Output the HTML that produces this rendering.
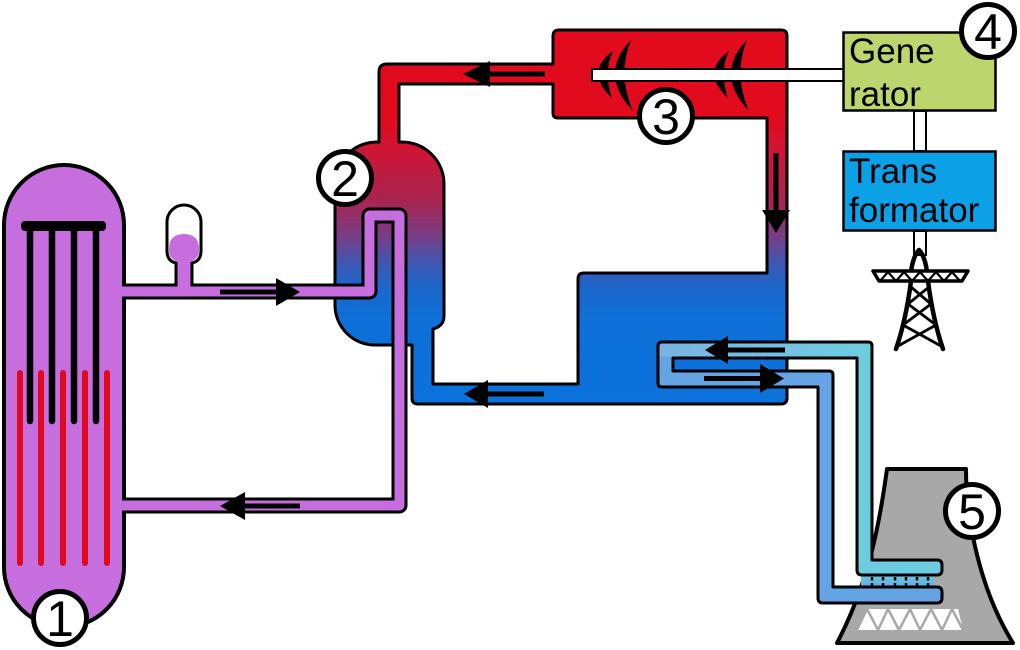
<!DOCTYPE html>
<html><head><meta charset="utf-8"><style>
html,body{margin:0;padding:0;background:#fff;}
svg{display:block;}
text{font-family:"Liberation Sans",Arial,sans-serif;}
</style></head><body>
<svg width="1020" height="650" viewBox="0 0 1020 650" xmlns="http://www.w3.org/2000/svg">
<defs>
<linearGradient id="gMain" gradientUnits="userSpaceOnUse" x1="0" y1="0" x2="0" y2="404">
<stop offset="0.297" stop-color="#e20b1d"/>
<stop offset="0.371" stop-color="#cf1535"/>
<stop offset="0.495" stop-color="#a8244f"/>
<stop offset="0.582" stop-color="#7a3c84"/>
<stop offset="0.656" stop-color="#3a58b4"/>
<stop offset="0.718" stop-color="#1a68cc"/>
<stop offset="0.79" stop-color="#0e70d8"/>
<stop offset="1" stop-color="#0b72dc"/>
</linearGradient>
<linearGradient id="gCyan" gradientUnits="userSpaceOnUse" x1="658" y1="0" x2="860" y2="0">
<stop offset="0" stop-color="#7ab3e3"/>
<stop offset="1" stop-color="#6ecce1"/>
</linearGradient>
<linearGradient id="gDrip" gradientUnits="userSpaceOnUse" x1="0" y1="575" x2="0" y2="588">
<stop offset="0" stop-color="#6ecce1"/>
<stop offset="1" stop-color="#64a4e4"/>
</linearGradient>
</defs>

<!-- cooling tower -->
<path d="M887,469 L966,469 C966,520 980,590 1013,643 L837,643 C870,580 880,520 887,469 Z" fill="#a8a8a8" stroke="#000" stroke-width="4" stroke-linejoin="round"/>
<polygon points="866,609 958,609 963,630 857,630" fill="#fff"/>
<polyline points="857,630 867,609 878,630 888,609 899,630 910,609 920,630 931,609 942,630 952,609 963,630" fill="none" stroke="#a8a8a8" stroke-width="2.5"/>

<!-- reactor vessel -->
<rect x="4" y="165" width="120" height="462" rx="60" ry="60" fill="#c66ede" stroke="#000" stroke-width="4"/>
<g stroke="#e0081c" stroke-width="6" stroke-linecap="round">
<line x1="20" y1="373" x2="20" y2="563"/>
<line x1="41" y1="373" x2="41" y2="563"/>
<line x1="63" y1="373" x2="63" y2="563"/>
<line x1="85" y1="373" x2="85" y2="563"/>
<line x1="107" y1="373" x2="107" y2="563"/>
</g>
<rect x="21" y="221" width="85" height="10" rx="4" fill="#000"/>
<g stroke="#000" stroke-width="6.5" stroke-linecap="round">
<line x1="30" y1="226" x2="30" y2="421"/>
<line x1="52" y1="226" x2="52" y2="421"/>
<line x1="74" y1="226" x2="74" y2="421"/>
<line x1="96" y1="226" x2="96" y2="421"/>
</g>

<!-- secondary loop: SG body, steam pipe, turbine, exhaust, condenser, return -->
<path fill-rule="evenodd" fill="url(#gMain)" stroke="#000" stroke-width="3" stroke-linejoin="round"
d="M335,184 A42,42 0 0 1 377,142 L379,142 L379,72 Q379,64 387,64 L553,64 L553,36 Q553,30 559,30 L781,30 Q787,30 787,36 L787,398 Q787,404 781,404 L418,404 Q412,404 412,398 L412,345 L375,345 A40,40 0 0 1 335,305 Z
M399,142 L399,84 L553,84 L553,113 Q553,118 558,118 L767,118 L767,273 L584,273 Q578,273 578,279 L578,384 L433,384 L433,329 Q444,326 444,316 L444,184 A42,42 0 0 0 402,142 Z"/>

<!-- primary purple pipes -->
<path d="M122,291.5 L369.5,291.5 L369.5,215.5 L399.5,215.5 L399.5,505.5 L122,505.5" fill="none" stroke="#000" stroke-width="16" stroke-linejoin="round"/>
<path d="M120,291.5 L369.5,291.5 L369.5,215.5 L399.5,215.5 L399.5,505.5 L120,505.5" fill="none" stroke="#c66ede" stroke-width="10" stroke-linejoin="round"/>

<!-- pressurizer -->
<path d="M176,284 L176,263 Q167,261 167,251 L167,222 A17,17 0 0 1 201,222 L201,251 Q201,261 192,263 L192,284" fill="#fff" stroke="none"/>
<path d="M169,249 Q169,234 184,234 Q199,234 199,249 L199,251 Q199,259 190.5,261.5 L190.5,289 L177.5,289 L177.5,261.5 Q169,259 169,251 Z" fill="#c66ede"/>
<path d="M176,284 L176,263 Q167,261 167,251 L167,222 A17,17 0 0 1 201,222 L201,251 Q201,261 192,263 L192,284" fill="none" stroke="#000" stroke-width="3"/>

<!-- cooling loop -->
<rect x="861" y="574" width="73" height="14" fill="url(#gDrip)"/>
<path d="M662,342 L868,342 Q872,342 872,346 L872,560 L937,560 Q942,560 942,565 L942,570 Q942,575 937,575 L862,575 Q857,575 857,570 L857,358 L673,358 L673,371 L829,371 Q833,371 833,375 L833,587 L937,587 Q942,587 942,592 L942,598 Q942,603 937,603 L823,603 Q818,603 818,598 L818,387 L662,387 Q658,387 658,383 L658,346 Q658,342 662,342 Z" fill="#64a4e4"/>
<path d="M659.5,343.5 L870.5,343.5 L870.5,561.5 L940.5,561.5 L940.5,573.5 L858.5,573.5 L858.5,356.5 L659.5,356.5 Z" fill="url(#gCyan)"/>
<path d="M662,342 L868,342 Q872,342 872,346 L872,560 L937,560 Q942,560 942,565 L942,570 Q942,575 937,575 L862,575 Q857,575 857,570 L857,358 L673,358 L673,371 L829,371 Q833,371 833,375 L833,587 L937,587 Q942,587 942,592 L942,598 Q942,603 937,603 L823,603 Q818,603 818,598 L818,387 L662,387 Q658,387 658,383 L658,346 Q658,342 662,342 Z" fill="none" stroke="#000" stroke-width="3" stroke-linejoin="round"/>
<g stroke="#000" stroke-width="2.5" stroke-dasharray="3.5 2.5">
<line x1="872" y1="577" x2="872" y2="587"/>
<line x1="883" y1="577" x2="883" y2="587"/>
<line x1="895" y1="577" x2="895" y2="587"/>
<line x1="906" y1="577" x2="906" y2="587"/>
<line x1="917" y1="577" x2="917" y2="587"/>
<line x1="928" y1="577" x2="928" y2="587"/>
</g>

<!-- turbine blades -->
<g fill="#000">
<path d="M613,51 Q584,72 612,98 Q603,72 613,51 Z"/>
<path d="M631,40 Q598,74 633,111 Q617,74 631,40 Z"/>
<path d="M729,51 Q700,72 728,98 Q719,72 729,51 Z"/>
<path d="M747,40 Q714,74 749,111 Q733,74 747,40 Z"/>
</g>
<!-- shaft -->
<rect x="592" y="69" width="256" height="12" fill="#fff" stroke="#000" stroke-width="2"/>

<!-- generator / transformer -->
<rect x="914" y="111" width="12" height="40" fill="#fff" stroke="#000" stroke-width="2"/>
<rect x="914" y="231" width="12" height="24" fill="#fff" stroke="#000" stroke-width="2"/>
<rect x="843.5" y="32.5" width="152" height="78" fill="#bcd56c" stroke="#000" stroke-width="2.5"/>
<text x="849" y="63" font-size="35" fill="#000">Gene</text>
<text x="849" y="106" font-size="35" fill="#000">rator</text>
<rect x="843.5" y="151.5" width="152" height="79" fill="#0ca0e6" stroke="#000" stroke-width="2.5"/>
<text x="849" y="183" font-size="35" fill="#000">Trans</text>
<text x="849" y="222" font-size="35" fill="#000">formator</text>

<!-- pylon -->
<g fill="none" stroke="#000" stroke-linejoin="round" stroke-linecap="round">
<path d="M911,272 Q913,256 919,250 Q925,256 927,272" stroke-width="4.5"/>
<polygon points="873,271 968,271 962,281 879,281" fill="#fff" stroke-width="3.5"/>
<polyline points="880,281 888,272 896,281 904,272 912,281 920,272 928,281 936,272 944,281 952,272 960,281" stroke-width="2.2"/>
<path d="M911,281 Q906,320 896,349" stroke-width="4.5"/>
<path d="M928,281 Q933,320 943,349" stroke-width="4.5"/>
<g stroke-width="2.8">
<line x1="911" y1="287" x2="931" y2="304"/>
<line x1="929" y1="287" x2="908" y2="304"/>
<line x1="908" y1="304" x2="936" y2="325"/>
<line x1="931" y1="304" x2="903" y2="325"/>
<line x1="903" y1="325" x2="941" y2="346"/>
<line x1="936" y1="325" x2="898" y2="346"/>
</g>
</g>

<!-- arrows -->
<g fill="#000" stroke="none">
<polygon points="276,278 300,292 276,306"/>
<polygon points="245,492 220,506 245,520"/>
<polygon points="490,61 463,74 490,87"/>
<polygon points="488,380 464,394 488,408"/>
<polygon points="762,210 790,210 776,233"/>
<polygon points="728,336 705,350 728,364"/>
<polygon points="760,364 784,378.5 760,393"/>
</g>
<g stroke="#000" stroke-width="5">
<line x1="220" y1="292" x2="278" y2="292"/>
<line x1="243" y1="506" x2="300" y2="506"/>
<line x1="488" y1="74" x2="545" y2="74"/>
<line x1="486" y1="394" x2="544" y2="394"/>
<line x1="776" y1="153" x2="776" y2="212"/>
<line x1="726" y1="350" x2="785" y2="350"/>
<line x1="704" y1="378.5" x2="762" y2="378.5"/>
</g>

<!-- number circles -->
<g fill="#fff" stroke="#000" stroke-width="5">
<circle cx="60" cy="618" r="26.5"/>
<circle cx="345" cy="178" r="26.5"/>
<circle cx="666" cy="116" r="26.5"/>
<circle cx="988" cy="31" r="26.5"/>
<circle cx="972" cy="511" r="26.5"/>
</g>
<g font-size="50" text-anchor="middle" fill="#000">
<text x="60" y="636">1</text>
<text x="345" y="196">2</text>
<text x="666" y="134">3</text>
<text x="988" y="49">4</text>
<text x="972" y="529">5</text>
</g>
</svg>
</body></html>
